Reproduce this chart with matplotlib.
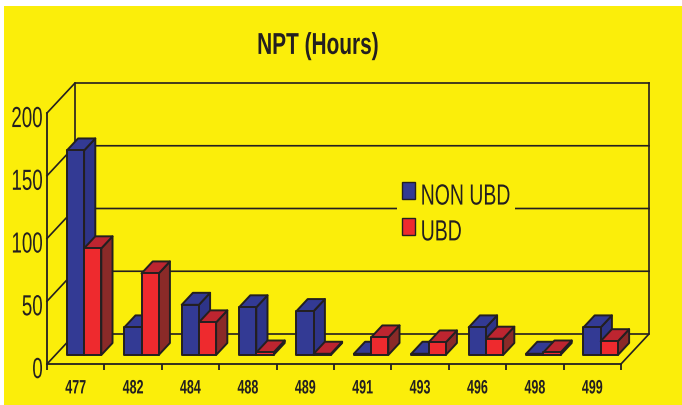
import matplotlib
matplotlib.use('Agg')
import matplotlib.pyplot as plt
from matplotlib.patches import Patch, Polygon, Rectangle
from matplotlib.patheffects import AbstractPathEffect
from matplotlib.transforms import Affine2D

# valeurs
puits = ['477', '482', '484', '488', '489', '491', '493', '496', '498', '499']
non_ubd = [163, 22, 40, 38, 35, 1, 1, 22, 1, 22]
ubd = [85, 65, 26, 2, 1, 14, 10, 13, 2, 11]
graduations = [0, 50, 100, 150, 200]

W, H = 682, 405
JAUNE = '#fbee0a'
BLEU, BLEU_HAUT, BLEU_COTE = '#333a94', '#333a94', '#2e3488'
ROUGE, ROUGE_HAUT, ROUGE_COTE = '#ee2a2e', '#bd2530', '#8a2a28'
NOIR = '#231f20'
POLICE = 'Liberation Sans'

# decalage de la perspective : unites de categorie et de valeur pour toute la profondeur
DX = 28 / 57.4
DY = 30 / 1.255


# la police de l'original est etroite : on etire le texte en hauteur autour de son centre
class Etire(AbstractPathEffect):
	def __init__(self, sy, dy=0):
		super().__init__()
		self.sy = sy
		self.dy = dy

	def draw_path(self, renderer, gc, tpath, affine, rgbFace=None):
		cy = tpath.get_extents().y0 + tpath.get_extents().height / 2
		local = Affine2D().translate(0, -cy).scale(1, self.sy).translate(0, cy)
		renderer.draw_path(gc, tpath, local + affine + Affine2D().translate(0, self.dy), rgbFace)


def proj(x, y, d):
	return (x + d * DX, y + d * DY)


def barre(ax, x0, x1, v, face, haut, cote):
	d0, d1 = 0.3, 0.7
	y0 = 0
	devant = [proj(x0, y0, d0), proj(x1, y0, d0), proj(x1, v, d0), proj(x0, v, d0)]
	dessus = [proj(x0, v, d0), proj(x1, v, d0), proj(x1, v, d1), proj(x0, v, d1)]
	droite = [proj(x1, y0, d0), proj(x1, y0, d1), proj(x1, v, d1), proj(x1, v, d0)]
	for pts, c in [(droite, cote), (dessus, haut), (devant, face)]:
		ax.add_patch(Polygon(pts, closed=True, facecolor=c, edgecolor=NOIR, lw=1.4,
			joinstyle='round', clip_on=False, zorder=3))


fig = plt.figure(figsize=(W / 100, H / 100), dpi=100, facecolor='white')
fig.add_artist(Rectangle((4 / W, 0), 1 - 4 / W, 1 - 6 / H, transform=fig.transFigure,
	facecolor=JAUNE, edgecolor='none', zorder=-5))

ax = fig.add_axes([47 / W, 1 - 364 / H, 574 / W, 251 / H])
ax.set_xlim(0, len(puits))
ax.set_ylim(0, 200)
ax.patch.set_alpha(0)
for s in ['top', 'right']:
	ax.spines[s].set_visible(False)
for s in ['left', 'bottom']:
	ax.spines[s].set_linewidth(1.3)
	ax.spines[s].set_color(NOIR)

# fond du graphe
n = len(puits)
for g in graduations:
	ax.plot(*zip(proj(0, g, 0), proj(0, g, 1), proj(n, g, 1)), color=NOIR, lw=1.2,
		clip_on=False, zorder=1)
ax.plot(*zip(proj(0, 200, 1), proj(0, 0, 1)), color=NOIR, lw=1.2, clip_on=False, zorder=1)
ax.plot(*zip(proj(n, 200, 1), proj(n, 0, 1), proj(n, 0, 0)), color=NOIR, lw=1.2,
	clip_on=False, zorder=1)

# barres
for i in range(n):
	barre(ax, i + 0.2, i + 0.5, non_ubd[i], BLEU, BLEU_HAUT, BLEU_COTE)
	barre(ax, i + 0.5, i + 0.8, ubd[i], ROUGE, ROUGE_HAUT, ROUGE_COTE)

# axes
ax.set_yticks(graduations)
ax.set_yticklabels([str(g) for g in graduations], fontsize=13.5, family=POLICE, color=NOIR)
ax.tick_params(axis='y', length=0, pad=3)
for t in ax.get_yticklabels():
	t.set_path_effects([Etire(1.55, dy=-4)])
ax.set_xticks(range(n + 1))
ax.set_xticklabels([])
ax.tick_params(axis='x', length=4, width=1.3, color=NOIR, direction='out')
ax.set_xticks([i + 0.5 for i in range(n)], minor=True)
ax.set_xticklabels(puits, minor=True, fontsize=9, fontweight='bold', family=POLICE, color=NOIR)
ax.tick_params(axis='x', which='minor', length=0, pad=13)
for t in ax.get_xticklabels(minor=True):
	t.set_path_effects([Etire(1.55)])

titre = fig.text(318 / W, 1 - 45 / H, 'NPT (Hours)', fontsize=15, fontweight='bold',
	family=POLICE, color=NOIR, ha='center', va='center')
titre.set_path_effects([Etire(1.45, dy=-1)])

leg = ax.legend(handles=[Patch(facecolor=BLEU, edgecolor=NOIR, label='NON UBD'),
	Patch(facecolor=ROUGE, edgecolor=NOIR, label='UBD')],
	loc='upper left', bbox_to_anchor=(397 / W, 1 - 177 / H), bbox_transform=fig.transFigure,
	frameon=True, facecolor=JAUNE, edgecolor='none', framealpha=1, fancybox=False,
	prop={'family': POLICE, 'size': 14}, handlelength=0.67, handleheight=1.0,
	handletextpad=0.3, labelspacing=0.85, borderpad=0.25, borderaxespad=0, labelcolor=NOIR)
leg.set_zorder(2)
for t in leg.get_texts():
	t.set_path_effects([Etire(1.5, dy=-4)])

fig.savefig('out.png', dpi=100)
